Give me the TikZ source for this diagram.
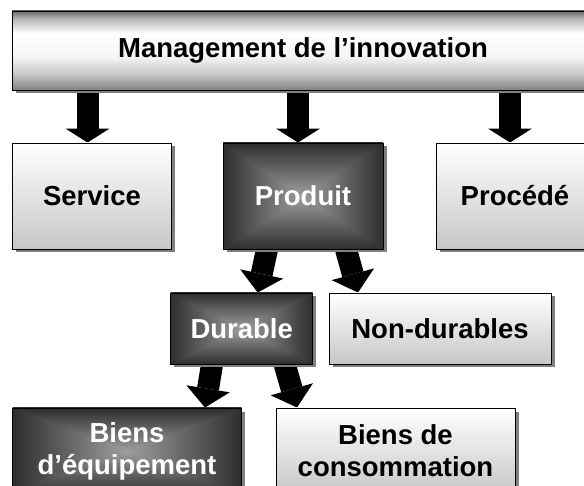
\documentclass[tikz,border=0pt]{standalone}
\usepackage{fontspec}
\setmainfont{Liberation Sans}
\usetikzlibrary{
	arrows.meta,
	backgrounds,
	shadows,
	calc,
	positioning
}

\pgfdeclareverticalshading{barshade}{100bp}{color(0bp)=(black!50); color(25bp)=(black!50); color(35bp)=(black!22); color(46bp)=(black!4); color(61bp)=(white); color(70bp)=(black!28); color(75bp)=(black!58); color(100bp)=(black!58)}
\pgfdeclarefunctionalshading{boxglow}{\pgfpoint{-50bp}{-50bp}}{\pgfpoint{50bp}{50bp}}{}{
	abs exch abs 2 copy lt {exch} if pop 25 div dup 1 gt {pop 1} if -0.44 mul 0.62 add dup dup
}

\tikzset{
	lightbox/.style={draw=black, line width=0.9pt, top color=white, bottom color=black!22,
		drop shadow={shadow xshift=3.5pt, shadow yshift=-3.5pt, fill=black!50, opacity=1},
		font=\fontsize{27.5}{32}\selectfont\bfseries, align=center, inner sep=0pt},
	darkbox/.style={lightbox, shading=boxglow, text=white},
	barbox/.style={lightbox, shading=barshade},
	bigarrow/.style={line width=22pt, -{Triangle[width=44pt, length=#1, line width=0pt]}},
	bigarrow/.default=14pt
}

\begin{document}
\begin{tikzpicture}[x=1pt, y=-1pt]
\useasboundingbox (0,0) rectangle (584,486);
\clip (0,0) rectangle (584,486);

\node[barbox, minimum width=582pt, minimum height=79pt] (bar) at (303,50.5) {Management de l’innovation};

\node[lightbox, minimum width=159pt, minimum height=106pt] (service) at (92,196) {Service};
\node[darkbox, minimum width=160pt, minimum height=106pt] (produit) at (303,196) {Produit};
\node[lightbox, minimum width=158pt, minimum height=106pt] (procede) at (515,196) {Procédé};

\node[darkbox, minimum width=142pt, minimum height=71pt] (durable) at (241.7,328.5) {Durable};
\node[lightbox, minimum width=222pt, minimum height=71pt] (nondurable) at (440,328.5) {Non-durables};

\node[darkbox, minimum width=229pt, minimum height=86pt] (equipement) at (127,451) {Biens\\d’équipement};
\node[lightbox, minimum width=239pt, minimum height=86pt] (consommation) at (395.5,451) {Biens de\\consommation};

\begin{scope}[on background layer] % fleches sous les ombres
\path[bigarrow] ([xshift=-215.5pt]bar.south) edge ([xshift=-4.5pt]service.north)
	([xshift=-5pt]bar.south) edge ([xshift=-5pt]produit.north)
	([xshift=207pt]bar.south) edge ([xshift=-5pt]procede.north);
\path[bigarrow=19pt] ([xshift=-36pt]produit.south) edge ([xshift=16pt]durable.north)
	([xshift=43pt]produit.south) edge ([xshift=-82pt]nondurable.north);
\path[bigarrow=19pt] ([xshift=-29.7pt]durable.south) edge ([xshift=78pt]equipement.north)
	([xshift=43pt]durable.south) edge ([xshift=-98.5pt]consommation.north);
\end{scope}
\end{tikzpicture}
\end{document}
